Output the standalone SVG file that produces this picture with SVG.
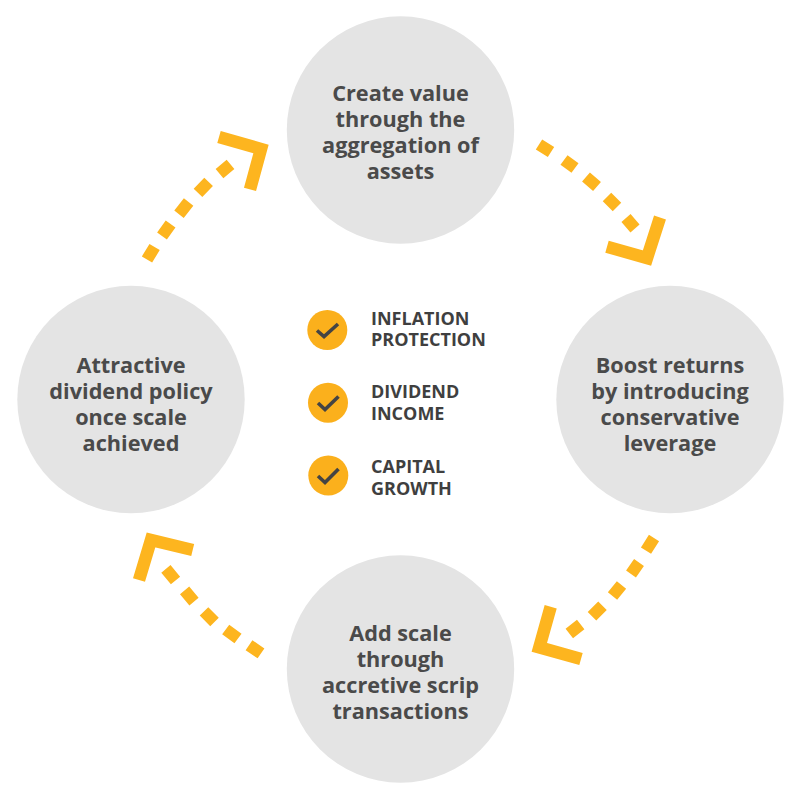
<svg xmlns="http://www.w3.org/2000/svg" width="800" height="797" viewBox="0 0 800 797">
<style>
.n{fill:#e4e4e4}
.t{font-family:"Open Sans","Liberation Sans",sans-serif;font-weight:700;font-size:21.7px;fill:#4a4a4a;text-anchor:middle}
.s{font-family:"Open Sans","Liberation Sans",sans-serif;font-weight:700;font-size:18px;fill:#3f3f3f}
.d{fill:none;stroke:#fdb51f;stroke-width:12}
.c{fill:none;stroke:#fdb51f;stroke-width:12.5;stroke-linejoin:miter}
.b{fill:#fbb01c}
.k{fill:none;stroke:#444;stroke-width:3.6}
</style>
<rect width="800" height="797" fill="#fff"/>
<g id="connectors">
<path class="d" d="M539 144.5L551 152M564 160L575 168M586 177L597 186.5M607 197L617 207M626 218L635 228.5"/>
<path class="c" d="M660 217.5L647 258L607 246.7"/>
<path class="d" d="M654 538L646 550.6M639 562.5L631 574M621.5 585L612.5 596M602.5 605.7L592 616.3M580.7 624.5L569.3 633.5"/>
<path class="c" d="M550.7 606.7L539.3 647.3L581 659"/>
<path class="d" d="M261 653.4L249 645.2M238 638.5L225.7 629.5M214.5 622L204 611.4M194 601.6L184.6 590.4M175.5 580.5L165.9 568.9"/>
<path class="c" d="M139 580L151 540L192.7 550"/>
<path class="d" d="M147 259.5L154.6 247M162 236L170.6 224M179 214.2L188.6 202M198 192.8L208.6 181.8M219.5 173.6L230.5 164.4"/>
<path class="c" d="M219 137L261 149L250 189.3"/>
</g>
<g id="node-top"><circle class="n" cx="400.5" cy="130" r="113.7"/>
<text class="t" x="400.5" y="100.5">Create value</text><text class="t" x="400.5" y="126.5">through the</text><text class="t" x="400.5" y="152.5">aggregation of</text><text class="t" x="400.5" y="178.5">assets</text></g>
<g id="node-right"><circle class="n" cx="670" cy="399.5" r="113.7"/>
<text class="t" x="670" y="372.5">Boost returns</text><text class="t" x="670" y="398.5">by introducing</text><text class="t" x="670" y="424.5">conservative</text><text class="t" x="670" y="450.5">leverage</text></g>
<g id="node-bottom"><circle class="n" cx="400.5" cy="669" r="113.7"/>
<text class="t" x="400.5" y="641">Add scale</text><text class="t" x="400.5" y="667">through</text><text class="t" x="400.5" y="693">accretive scrip</text><text class="t" x="400.5" y="719">transactions</text></g>
<g id="node-left"><circle class="n" cx="131" cy="399.5" r="113.7"/>
<text class="t" x="131" y="372.5">Attractive</text><text class="t" x="131" y="398.5">dividend policy</text><text class="t" x="131" y="424.5">once scale</text><text class="t" x="131" y="450.5">achieved</text></g>
<g id="item-inflation"><circle class="b" cx="327.3" cy="330" r="20"/><path class="k" d="M317 330.5L324 336.5L338 324"/>
<text class="s" x="371" y="324.5">INFLATION</text><text class="s" x="371" y="346">PROTECTION</text></g>
<g id="item-dividend"><circle class="b" cx="328" cy="402.7" r="20"/><path class="k" d="M318 403L325 409.5L338.5 396.5"/>
<text class="s" x="371" y="397.5">DIVIDEND</text><text class="s" x="371" y="419.5">INCOME</text></g>
<g id="item-capital"><circle class="b" cx="328.3" cy="475.5" r="20"/><path class="k" d="M318 476L325 482.5L338.5 469"/>
<text class="s" x="371" y="472.5">CAPITAL</text><text class="s" x="371" y="494.5">GROWTH</text></g>
</svg>
